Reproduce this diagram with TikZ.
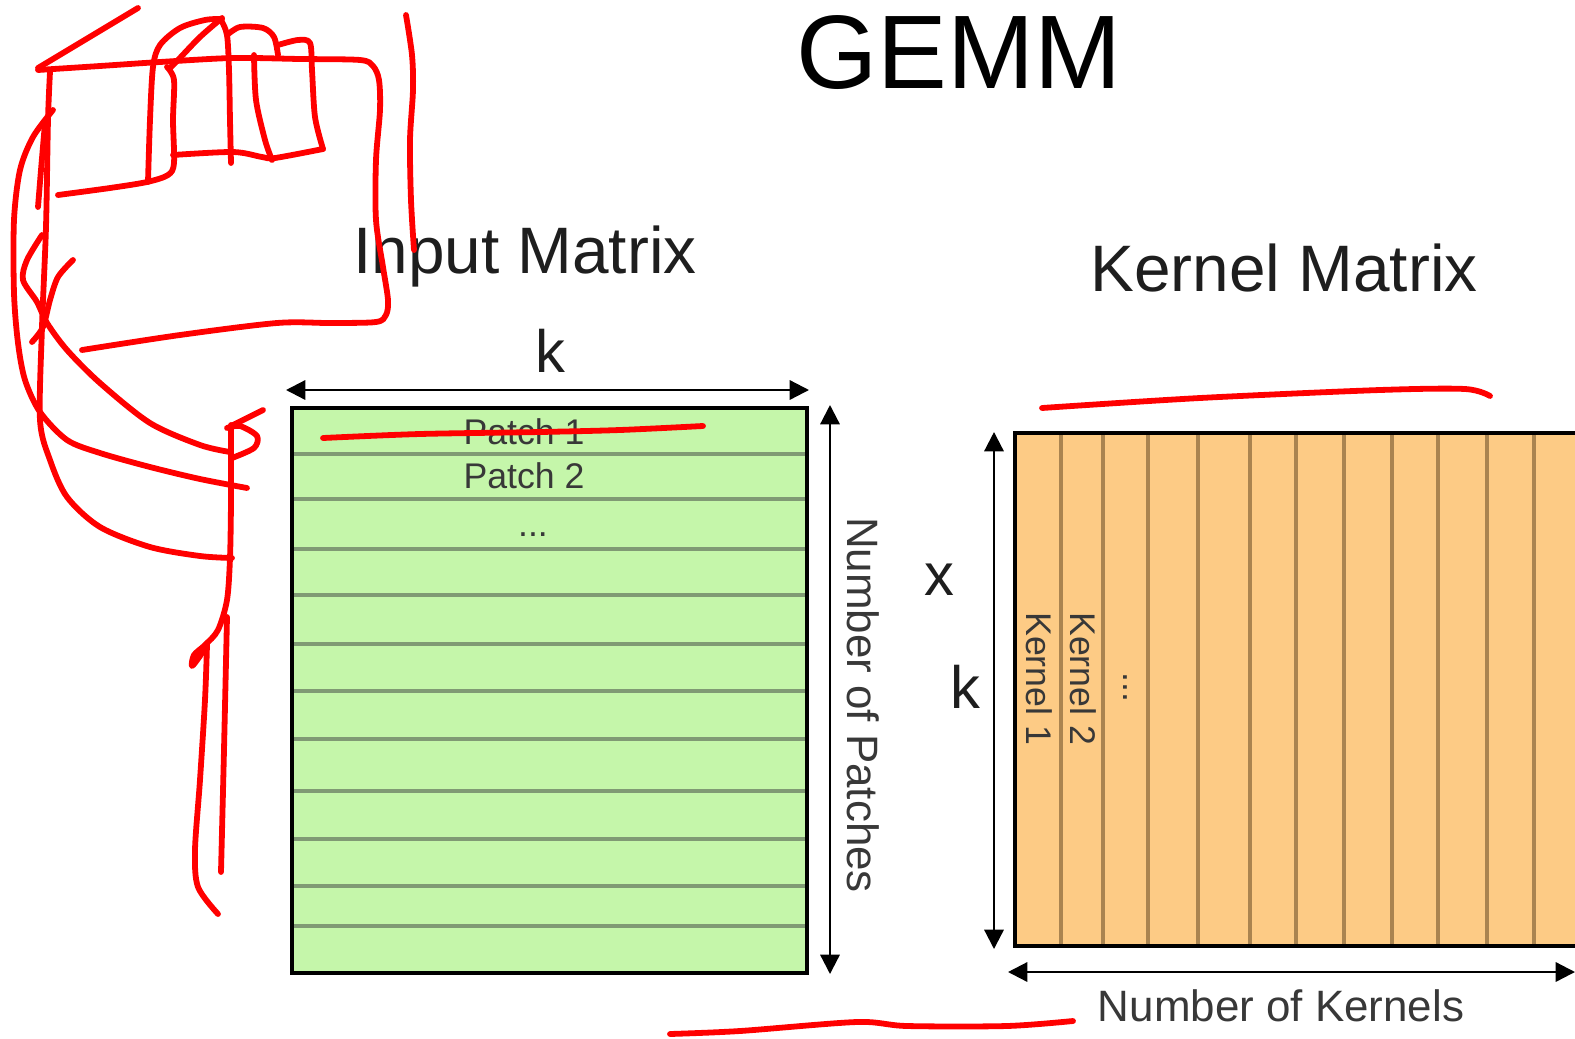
\documentclass[tikz,border=0pt]{standalone}
\usepackage{fontspec}
\setmainfont{Liberation Sans}
\usetikzlibrary{arrows.meta}
\definecolor{gfill}{HTML}{C5F6AA}
\definecolor{gline}{HTML}{809A74}
\definecolor{ofill}{HTML}{FDCB85}
\definecolor{oline}{HTML}{AA8450}
\definecolor{txtdark}{HTML}{1E1E1E}
\definecolor{txtgray}{HTML}{383838}
\begin{document}
\begin{tikzpicture}[x=0.02cm,y=-0.02cm,
  dimarrow/.style={line width=1.3pt,{Triangle[length=11pt,width=11pt]}-{Triangle[length=11pt,width=11pt]}},
  redink/.style={draw=red,line width=3.3pt,line cap=round,line join=round},
  bigtitle/.style={font=\fontsize{59.5}{60}\selectfont,text=black,inner sep=0pt,anchor=base},
  mattitle/.style={font=\fontsize{37.4}{38}\selectfont,text=txtdark,inner sep=0pt,anchor=base},
  dimlabel/.style={font=\fontsize{34}{35}\selectfont,text=txtdark,inner sep=0pt,anchor=base},
  countlabel/.style={font=\fontsize{25}{26}\selectfont,text=txtgray,inner sep=0pt},
  celllabel/.style={font=\fontsize{20.3}{21}\selectfont,text=txtgray,inner sep=0pt}]
\useasboundingbox (0,0) rectangle (1575,1038);
\fill[white] (0,0) rectangle (1575,1038);

% titles
\node[bigtitle] (gemm) at (959,88) {GEMM};
\node[mattitle] (intitle) at (525,273) {Input Matrix};
\node[mattitle] (ktitle) at (1284,291) {Kernel Matrix};

% input matrix
\coordinate (inTL) at (292,408);
\coordinate (inBR) at (807,973);
\fill[gfill] (inTL) rectangle (inBR);
\foreach \yy in {454,499,549,595,644,691,739,791,839,886,926}
  \draw[gline,line width=1.8pt] (292,\yy) -- (807,\yy);
\draw[black,line width=1.8pt] (inTL) rectangle (inBR);
\node[celllabel,anchor=base] (p1) at (524,444) {Patch 1};
\node[celllabel,anchor=base] (p2) at (524,488) {Patch 2};
\node[celllabel,anchor=base] (pd) at (533,536) {...};

% input dimension arrows
\coordinate (ka) at (286,390);
\coordinate (kb) at (809,390);
\draw[dimarrow] (ka) -- (kb);
\node[dimlabel] (klab) at (550,372) {k};
\coordinate (npa) at (830,405);
\coordinate (npb) at (830,974);
\draw[dimarrow] (npa) -- (npb);
\node[countlabel,rotate=-90] (nplab) at (863,705) {Number of Patches};

% times sign
\node[dimlabel] (xlab) at (939,595) {x};
\node[dimlabel] (k2lab) at (965,708) {k};

% kernel matrix
\fill[ofill] (1015,433) rectangle (1575,946);
\foreach \xx in {1061,1103,1148,1198,1250,1296,1344,1392,1438,1487,1534}
  \draw[oline,line width=1.9pt] (\xx,433) -- (\xx,946);
\draw[black,line width=1.8pt] (1575,433) -- (1015,433) -- (1015,946) -- (1575,946);
\node[celllabel,rotate=-90,anchor=west] (k1) at (1039,612) {Kernel 1};
\node[celllabel,rotate=-90,anchor=west] (k2) at (1083,612) {Kernel 2};
\node[celllabel,rotate=-90,anchor=west] (kd) at (1125,672) {...};

\coordinate (kka) at (994,432);
\coordinate (kkb) at (994,949);
\draw[dimarrow] (kka) -- (kkb);
\coordinate (nka) at (1008,972);
\coordinate (nkb) at (1575,972);
\draw[dimarrow] (nka) -- (nkb);
\node[countlabel,anchor=base] (nklab) at (1281,1021) {Number of Kernels};

% red annotations
\draw[redink] (38,68) -- (138,8);
\draw[redink] plot[smooth] coordinates {(38,70) (100,66) (160,62) (233,58) (300,59) (360,60) (373,66) (379,80) (380,110) (376,160) (376,220) (383,267) (388,300) (386,315) (376,322) (330,323) (277,323) (180,335) (82,350)};
\draw[redink] plot[smooth] coordinates {(50,72) (48,120) (46,227) (42,327) (40,420) (50,460) (67,497) (100,527) (150,547) (200,556) (232,558)};
\draw[redink] plot[smooth] coordinates {(45,123) (41,170) (38,207)};
\draw[redink] plot[smooth] coordinates {(53,110) (33,137) (20,170) (14,220) (14,293) (18,343) (25,380) (40,412) (67,440) (100,453) (150,467) (200,479) (247,488)};
\draw[redink] plot[smooth] coordinates {(42,235) (27,260) (23,280) (37,302) (47,323) (67,350) (100,383) (150,423) (200,445) (230,452)};
\draw[redink] plot[smooth] coordinates {(73,260) (58,277) (50,300) (43,327) (32,342)};
\draw[redink] plot[smooth] coordinates {(227,428) (240,426) (257,436) (254,448) (232,458)};
\draw[redink] (233,425) -- (263,410);
\draw[redink] plot[smooth] coordinates {(231,425) (231,500) (230,558) (227,600) (218,630) (205,645) (194,655) (192,666) (200,656) (207,645)};
\draw[redink] plot[smooth] coordinates {(207,645) (205,700) (200,780) (195,850) (198,887) (218,914)};
\draw[redink] plot[smooth] coordinates {(227,617) (224,750) (221,872)};
\draw[redink] plot[smooth] coordinates {(406,15) (412,55) (413,90) (410,140) (411,200) (414,250)};
\draw[redink] plot[smooth] coordinates {(148,182) (150,120) (153,67) (160,45) (180,28) (205,20) (222,19)};
\draw[redink] plot[smooth] coordinates {(222,18) (200,37) (178,60) (170,68)};
\draw[redink] plot[smooth] coordinates {(58,195) (110,188) (147,182) (168,175) (174,163) (173,120) (174,80) (167,67)};
\draw[redink] plot[smooth] coordinates {(221,20) (227,35) (229,70) (230,120) (231,163)};
\draw[redink] plot[smooth] coordinates {(227,35) (240,27) (263,28) (274,37) (278,55)};
\draw[redink] plot[smooth] coordinates {(254,55) (256,100) (265,140) (272,160)};
\draw[redink] plot[smooth] coordinates {(278,45) (298,40) (310,43) (312,70) (315,117) (323,149)};
\draw[redink] plot[smooth] coordinates {(173,155) (233,152) (262,157) (275,158) (323,149)};
\draw[redink] plot[smooth] coordinates {(323,438) (420,434) (540,432) (620,430) (703,426)};
\draw[redink] plot[smooth] coordinates {(1042,408) (1200,398) (1380,390) (1465,389) (1490,396)};
\draw[redink] plot[smooth] coordinates {(670,1034) (740,1031) (857,1022) (907,1026) (1007,1026) (1073,1021)};
\end{tikzpicture}
\end{document}
